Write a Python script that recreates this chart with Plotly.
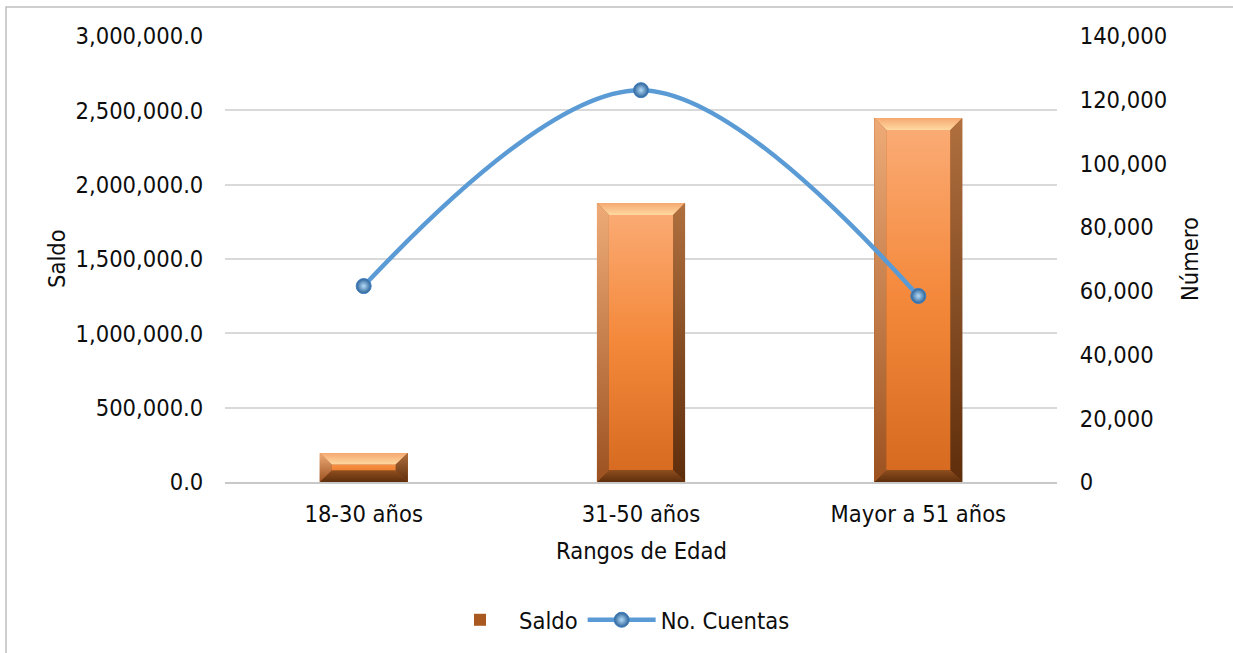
import plotly.graph_objects as go

# Datos por rango de edad
rangos = ["18-30 años", "31-50 años", "Mayor a 51 años"]
saldo = [195000.0, 1877000.0, 2449000.0]
cuentas = [61500, 123000, 58400]

FONT = "DejaVu Sans Condensed, DejaVu Sans, sans-serif"
FS = 23.5

W, H = 1233, 653
L, R, T, B = 225, 176, 36, 171
plot_w = W - L - R
plot_h = H - T - B
y_max = 3000000
y2_max = 140000

pos = list(range(len(rangos)))
bar_w = 0.318
px_x = plot_w / len(rangos)          # pixels per category unit
px_y = plot_h / y_max                # pixels per saldo unit
bev_px = 12


def py(y_px):
    """Page pixel row -> paper coordinate."""
    return (H - B - y_px) / plot_h


def px(x_px):
    """Page pixel column -> paper coordinate."""
    return (x_px - L) / plot_w


fig = go.Figure()

# Base bar (also provides the legend entry)
fig.add_trace(go.Bar(
    x=pos, y=saldo, width=bar_w, name="Saldo",
    marker=dict(color="#a9591f", line=dict(width=0)),
    hoverinfo="skip",
))


def face(xs, ys, scale, start, stop):
    fig.add_trace(go.Scatter(
        x=xs + [xs[0]], y=ys + [ys[0]], mode="lines", fill="toself",
        line=dict(width=0), showlegend=False, hoverinfo="skip",
        fillgradient=dict(type="vertical", colorscale=scale, start=start, stop=stop),
    ))


# Bevelled faces drawn on each bar
for c, v in zip(pos, saldo):
    x0, x1 = c - bar_w / 2, c + bar_w / 2
    bx = bev_px / px_x
    by = min(bev_px / px_y, v * 0.4)
    ix0, ix1 = x0 + bx, x1 - bx
    iy0, iy1 = by, v - by
    # front
    face([ix0, ix1, ix1, ix0], [iy0, iy0, iy1, iy1],
         [[0, "#d4691f"], [0.5, "#f4883a"], [1, "#fbad78"]], 0, v)
    # top
    face([x0, x1, ix1, ix0], [v, v, iy1, iy1],
         [[0, "#ffd9a2"], [1, "#f5a86f"]], iy1, v)
    # bottom
    face([x0, x1, ix1, ix0], [0, 0, iy0, iy0],
         [[0, "#5e2e0c"], [1, "#8f4e1f"]], 0, iy0)
    # left
    face([x0, x0, ix0, ix0], [0, v, iy1, iy0],
         [[0, "#9c5220"], [1, "#eeab78"]], 0, v)
    # right
    face([x1, x1, ix1, ix1], [0, v, iy1, iy0],
         [[0, "#5e2d0b"], [1, "#b0703f"]], 0, v)

# Number of accounts, smoothed line on the secondary axis
fig.add_trace(go.Scatter(
    x=pos, y=cuentas, name="No. Cuentas", yaxis="y2",
    mode="lines+markers", line=dict(color="#5b9bd5", width=4.5, shape="spline"),
    marker=dict(size=15, color="#2a6198", line=dict(color="#3f7fc0", width=1),
                gradient=dict(type="radial", color="#b5dcf8")),
    hoverinfo="skip",
))

fig.update_layout(
    width=W, height=H,
    margin=dict(l=L, r=R, t=T, b=B, autoexpand=False),
    paper_bgcolor="white", plot_bgcolor="white",
    font=dict(family=FONT, size=FS, color="#0d0d0d"),
    bargap=0,
    showlegend=True,
    legend=dict(orientation="h", x=px(618), xanchor="center", y=py(620),
                yanchor="middle", font=dict(size=FS), itemwidth=68,
                bgcolor="rgba(0,0,0,0)"),
    xaxis=dict(
        range=[-0.5, len(rangos) - 0.5], tickvals=pos, ticktext=rangos,
        showgrid=False, zeroline=False, showline=True, linecolor="#c8c8c8", linewidth=2,
        ticks="outside", ticklen=10, tickcolor="rgba(0,0,0,0)",
        fixedrange=True,
    ),
    yaxis=dict(
        range=[0, y_max], dtick=500000, tickformat=",.1f",
        showgrid=True, gridcolor="#d9d9d9", gridwidth=1.5, zeroline=False,
        showline=False, ticks="outside", ticklen=16, tickcolor="rgba(0,0,0,0)",
    ),
    yaxis2=dict(
        range=[0, y2_max], dtick=20000, tickformat=",", overlaying="y", side="right",
        showgrid=False, zeroline=False, showline=False,
        ticks="outside", ticklen=17, tickcolor="rgba(0,0,0,0)",
    ),
)

# Axis titles
fig.add_annotation(text="Saldo", xref="paper", yref="paper",
                   x=px(57), y=py(259), xanchor="center", yanchor="middle",
                   textangle=-90, showarrow=False, font=dict(size=FS))
fig.add_annotation(text="Número", xref="paper", yref="paper",
                   x=px(1190), y=py(259), xanchor="center", yanchor="middle",
                   textangle=-90, showarrow=False, font=dict(size=FS))
fig.add_annotation(text="Rangos de Edad", xref="paper", yref="paper",
                   x=px(641), y=py(551), xanchor="center", yanchor="middle",
                   showarrow=False, font=dict(size=FS))

# Chart frame
fig.add_shape(type="rect", xref="paper", yref="paper",
              x0=px(6), x1=px(W + 20), y0=py(H + 20), y1=py(7),
              line=dict(color="#bfbfbf", width=1.5), layer="below")

fig.write_html("out.html")
